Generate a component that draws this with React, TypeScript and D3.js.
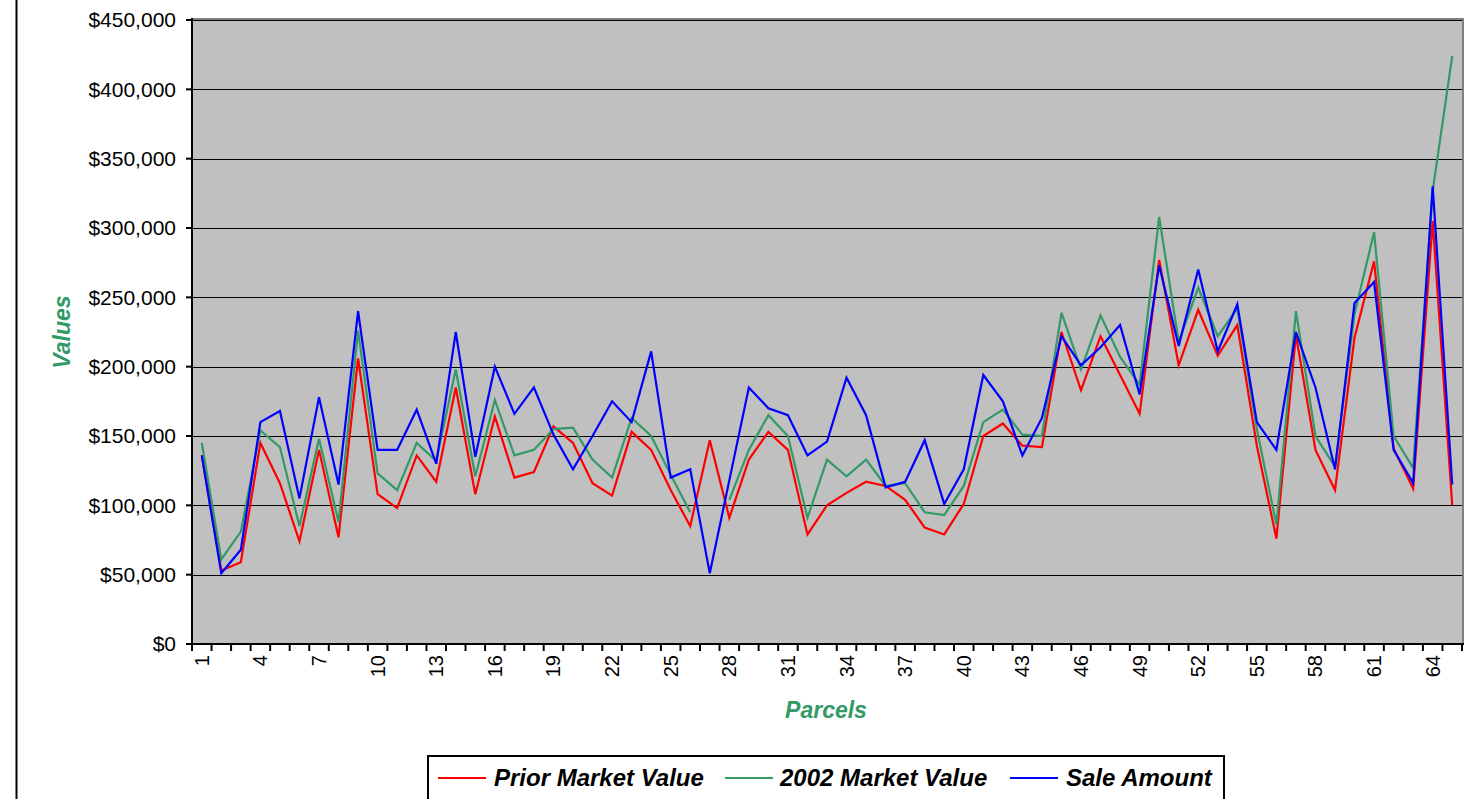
import React from "react";
import * as d3 from "d3";

const parcels: number[] = Array.from({ length: 65 }, (_, i) => i + 1);

const priorMarket: number[] = [
  136, 53, 59, 145, 116, 74, 140, 77, 206, 108, 98, 136, 117, 185, 108, 164, 120, 124, 157, 145,
  116, 107, 153, 140, 111, 85, 147, 91, 133, 153, 140, 79, 100, 109, 117, 114, 104, 84, 79, 101,
  150, 159, 143, 142, 225, 183, 222, 194, 166, 277, 201, 241, 208, 230, 143, 76, 223, 140, 111, 221,
  276, 141, 112, 305, 100,
].map((v) => v * 1000);

const market2002: (number | null)[] = [
  145, 61, 81, 154, 142, 85, 148, 88, 226, 123, 111, 145, 132, 198, 121, 176, 136, 140, 155, 156,
  133, 120, 163, 150, 122, 95, null, 104, 140, 165, 150, 91, 133, 121, 133, 114, 116, 95, 93, 114,
  160, 169, 151, 150, 239, 198, 237, 207, 187, 308, 218, 257, 222, 242, 155, 86, 240, 150, 128, 238,
  297, 150, 127, 327, 424,
].map((v) => (v === null ? null : v * 1000));

const saleAmount: number[] = [
  136, 51, 68, 160, 168, 105, 178, 115, 240, 140, 140, 169, 130, 225, 135, 200, 166, 185, 151, 126,
  150, 175, 160, 211, 120, 126, 51, 118, 185, 170, 165, 136, 146, 192, 165, 113, 117, 147, 101, 126,
  194, 175, 136, 163, 222, 201, 214, 230, 180, 273, 215, 270, 211, 245, 160, 140, 225, 185, 126, 246,
  261, 140, 116, 330, 115,
].map((v) => v * 1000);

const yTicks: number[] = [0, 50000, 100000, 150000, 200000, 250000, 300000, 350000, 400000, 450000];
const seriesNames: string[] = ["Prior Market Value", "2002 Market Value", "Sale Amount"];
const seriesColors: string[] = ["#FF0000", "#339966", "#0000FF"];

export default function App() {
  const W = 1482;
  const H = 799;
  const left = 192;
  const right = 1462;
  const top = 20;
  const bottom = 644;

  const x = d3.scaleBand<number>().domain(parcels).range([left, right]).padding(0);
  const bw = x.bandwidth();
  const cx = (p: number) => (x(p) as number) + bw / 2;
  const y = d3.scaleLinear().domain([0, 450000]).range([bottom, top]);
  const crisp = (v: number) => Math.round(v) + 0.5;

  const line = d3
    .line<number | null>()
    .defined((d) => d !== null)
    .x((_, i) => cx(parcels[i]))
    .y((d) => y(d as number));

  const allSeries: (number | null)[][] = [priorMarket, market2002, saleAmount];
  const fmt = (v: number) => "$" + d3.format(",")(v);

  const boundaries = d3.range(parcels.length + 1).map((i) => left + i * bw);
  const labelParcels = parcels.filter((p) => (p - 1) % 3 === 0);

  const font = "Arial, 'Liberation Sans', sans-serif";

  const legendItems = [
    { lx: 438, tx: 494 },
    { lx: 725, tx: 780 },
    { lx: 1010, tx: 1066 },
  ];

  return (
    <svg
      width={W}
      height={H}
      style={{ position: "absolute", left: 0, top: 0, background: "#fff" }}
      fontFamily={font}
    >
      <line x1={16.5} y1={0} x2={16.5} y2={H} stroke="#000" strokeWidth={2} />
      <rect x={left} y={top} width={right - left} height={bottom - top} fill="#C0C0C0" />
      {yTicks.map((t) => (
        <line
          key={"g" + t}
          x1={left}
          x2={right}
          y1={crisp(y(t))}
          y2={crisp(y(t))}
          stroke="#000"
          strokeWidth={1}
        />
      ))}
      <line x1={right + 1} y1={top - 1} x2={right + 1} y2={bottom} stroke="#808080" strokeWidth={2} />
      <line x1={left} y1={top - 1} x2={right + 2} y2={top - 1} stroke="#808080" strokeWidth={2} />
      {allSeries.map((s, k) => (
        <path
          key={"s" + k}
          d={line(s) || ""}
          fill="none"
          stroke={seriesColors[k]}
          strokeWidth={2.2}
          strokeLinejoin="miter"
        />
      ))}
      <line x1={left} y1={top - 2} x2={left} y2={bottom + 1} stroke="#000" strokeWidth={2} />
      <line x1={left - 1} y1={bottom} x2={right + 2} y2={bottom} stroke="#000" strokeWidth={2} />
      {yTicks.map((t) => (
        <g key={"yt" + t}>
          <line x1={left - 6} x2={left} y1={y(t)} y2={y(t)} stroke="#000" strokeWidth={2} />
          <text x={176} y={y(t)} dy="0.35em" textAnchor="end" fontSize={21} fill="#000">
            {fmt(t)}
          </text>
        </g>
      ))}
      {boundaries.map((b, i) => (
        <line key={"xt" + i} x1={b} x2={b} y1={bottom} y2={bottom + 7} stroke="#000" strokeWidth={2} />
      ))}
      {labelParcels.map((p) => (
        <text
          key={"xl" + p}
          transform={`translate(${cx(p)},${bottom + 11}) rotate(-90)`}
          textAnchor="end"
          dy="0.35em"
          fontSize={20}
          fill="#000"
        >
          {p}
        </text>
      ))}
      <text
        transform={`translate(62,332) rotate(-90)`}
        textAnchor="middle"
        dy="0.35em"
        fontSize={23}
        fontWeight="bold"
        fontStyle="italic"
        fill="#339966"
      >
        Values
      </text>
      <text
        x={826}
        y={718}
        textAnchor="middle"
        fontSize={23}
        fontWeight="bold"
        fontStyle="italic"
        fill="#339966"
      >
        Parcels
      </text>
      <rect x={428} y={756} width={796} height={70} fill="#fff" stroke="#000" strokeWidth={2} />
      {legendItems.map((it, k) => (
        <g key={"lg" + k}>
          <line x1={it.lx} x2={it.lx + 48} y1={778} y2={778} stroke={seriesColors[k]} strokeWidth={2.2} />
          <text x={it.tx} y={786} fontSize={24} fontWeight="bold" fontStyle="italic" fill="#000">
            {seriesNames[k]}
          </text>
        </g>
      ))}
    </svg>
  );
}
